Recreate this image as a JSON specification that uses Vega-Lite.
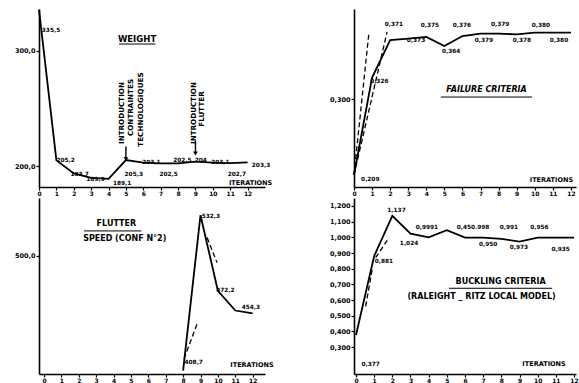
{
  "$schema": "https://vega.github.io/schema/vega-lite/v6.json",
  "background": "white",
  "padding": {"left": 14, "top": 5, "right": 0, "bottom": 0},
  "bounds": "flush",
  "columns": 2,
  "spacing": {"row": 11, "column": 89},
  "config": {
    "view": {"stroke": null},
    "axis": {"domainColor": "black", "domainWidth": 1.6, "tickColor": "black", "tickSize": 3, "tickWidth": 1.2, "labelFont": "DejaVu Sans", "labelFontWeight": "bold", "labelFontSize": 6.5, "labelColor": "black", "labelPadding": 1, "grid": false, "title": null},
    "text": {"font": "DejaVu Sans", "fontWeight": "bold", "fontSize": 5.8, "color": "black"}
  },
  "concat": [
    {
      "width": 226, "height": 178,
      "layer": [
        {
          "data": {"values": [
            {"it": 0, "v": 335.5}, {"it": 1, "v": 205.2}, {"it": 2, "v": 193.7}, {"it": 3, "v": 189.9}, {"it": 4, "v": 189.1},
            {"it": 5, "v": 205.3}, {"it": 6, "v": 203.1}, {"it": 7, "v": 202.5}, {"it": 8, "v": 202.5}, {"it": 9, "v": 204.0},
            {"it": 10, "v": 203.1}, {"it": 11, "v": 202.7}, {"it": 12, "v": 203.3}
          ]},
          "mark": {"type": "line", "color": "black", "strokeWidth": 1.8},
          "encoding": {
            "x": {"field": "it", "type": "quantitative", "scale": {"domain": [0, 13], "nice": false, "zero": false}, "axis": {"values": [0,1,2,3,4,5,6,7,8,9,10,11,12], "format": "d", "tickCount": 30, "labelOverlap": false, "labelFlush": false, "labelFontSize": 6, "tickSize": 3, "labelPadding": 0}},
            "y": {"field": "v", "type": "quantitative", "scale": {"domain": [182, 336], "nice": false, "zero": false}, "axis": {"values": [200, 300], "tickCount": 30, "labelOverlap": false, "labelExpr": "replace(format(datum.value, '.1f'), '.', ',')"}}
          }
        },
        {
          "data": {"values": [
            {"it": 0.69, "v": 317.8, "t": "335,5"}, {"it": 1.53, "v": 205.1, "t": "205,2"}, {"it": 2.34, "v": 193, "t": "193,7"},
            {"it": 3.25, "v": 188.7, "t": "189,9"}, {"it": 4.78, "v": 185.7, "t": "189,1"}, {"it": 5.45, "v": 193.5, "t": "205,3"},
            {"it": 6.46, "v": 203.6, "t": "203,1"}, {"it": 7.46, "v": 193, "t": "202,5"}, {"it": 8.25, "v": 205.1, "t": "202,5"},
            {"it": 9.3, "v": 205.1, "t": "204"}, {"it": 10.43, "v": 203.6, "t": "203,1"}, {"it": 11.38, "v": 193.5, "t": "202,7"},
            {"it": 12.77, "v": 200.8, "t": "203,3"}
          ]},
          "mark": {"type": "text"},
          "encoding": {"x": {"field": "it", "type": "quantitative"}, "y": {"field": "v", "type": "quantitative"}, "text": {"field": "t"}}
        },
        {
          "data": {"values": [{"it": 5.64, "v": 309.8, "t": "WEIGHT"}]},
          "mark": {"type": "text", "fontSize": 8.5},
          "encoding": {"x": {"field": "it", "type": "quantitative"}, "y": {"field": "v", "type": "quantitative"}, "text": {"field": "t"}}
        },
        {
          "data": {"values": [{"it": 12.17, "v": 185.7, "t": "ITERATIONS"}]},
          "mark": {"type": "text", "fontSize": 6.5},
          "encoding": {"x": {"field": "it", "type": "quantitative"}, "y": {"field": "v", "type": "quantitative"}, "text": {"field": "t"}}
        },
        {
          "data": {"values": [{"it": 4.6, "it2": 6.7, "v": 305.7}]},
          "mark": {"type": "rule", "color": "black", "strokeWidth": 1},
          "encoding": {"x": {"field": "it", "type": "quantitative"}, "x2": {"field": "it2"}, "y": {"field": "v", "type": "quantitative"}}
        },
        {
          "data": {"values": [
            {"it": 4.75, "v": 246, "t": "INTRODUCTION"}, {"it": 5.32, "v": 250.8, "t": "CONTRAINTES"}, {"it": 5.84, "v": 249, "t": "TECHNOLOGIQUES"},
            {"it": 8.9, "v": 246, "t": "INTRODUCTION"}, {"it": 9.36, "v": 249.5, "t": "FLUTTER"}
          ]},
          "mark": {"type": "text", "angle": 270, "fontSize": 7.2},
          "encoding": {"x": {"field": "it", "type": "quantitative"}, "y": {"field": "v", "type": "quantitative"}, "text": {"field": "t"}}
        },
        {
          "data": {"values": [{"it": 5, "v1": 217, "v2": 206}, {"it": 9, "v1": 222, "v2": 211}]},
          "mark": {"type": "rule", "color": "black", "strokeWidth": 1.4},
          "encoding": {"x": {"field": "it", "type": "quantitative"}, "y": {"field": "v1", "type": "quantitative"}, "y2": {"field": "v2"}}
        },
        {
          "data": {"values": [{"it": 5, "v": 206}, {"it": 9, "v": 211}]},
          "mark": {"type": "point", "shape": "triangle-down", "filled": true, "color": "black", "size": 22, "opacity": 1},
          "encoding": {"x": {"field": "it", "type": "quantitative"}, "y": {"field": "v", "type": "quantitative"}}
        },
        {
          "mark": {"type": "point", "shape": "triangle-up", "filled": true, "color": "black", "size": 30, "opacity": 1},
          "encoding": {"x": {"datum": 0}, "y": {"datum": 336}}
        },
        {
          "mark": {"type": "point", "shape": "triangle-right", "filled": true, "color": "black", "size": 30, "opacity": 1},
          "encoding": {"x": {"datum": 13}, "y": {"datum": 182}}
        }
      ]
    },
    {
      "width": 222, "height": 178,
      "layer": [
        {
          "data": {"values": [
            {"it": 0, "v": 0.209}, {"it": 1, "v": 0.326}, {"it": 2, "v": 0.371}, {"it": 3, "v": 0.373}, {"it": 4, "v": 0.375},
            {"it": 5, "v": 0.364}, {"it": 6, "v": 0.376}, {"it": 7, "v": 0.379}, {"it": 8, "v": 0.379}, {"it": 9, "v": 0.378},
            {"it": 10, "v": 0.380}, {"it": 11, "v": 0.380}, {"it": 12, "v": 0.380}
          ]},
          "mark": {"type": "line", "color": "black", "strokeWidth": 1.8},
          "encoding": {
            "x": {"field": "it", "type": "quantitative", "scale": {"domain": [0, 12.28], "nice": false, "zero": false}, "axis": {"values": [0,1,2,3,4,5,6,7,8,9,10,11,12], "format": "d", "tickCount": 30, "labelOverlap": false, "labelFlush": false, "labelFontSize": 6, "tickSize": 3, "labelPadding": 0}},
            "y": {"field": "v", "type": "quantitative", "scale": {"domain": [0.1946, 0.4085], "nice": false, "zero": false}, "axis": {"values": [0.3], "tickCount": 30, "labelOverlap": false, "labelExpr": "replace(format(datum.value, '.3f'), '.', ',')"}}
          }
        },
        {
          "data": {"values": [
            {"s": "a", "it": 0, "v": 0.209}, {"s": "a", "it": 0.83, "v": 0.381},
            {"s": "b", "it": 0, "v": 0.209}, {"s": "b", "it": 1.83, "v": 0.381}
          ]},
          "mark": {"type": "line", "color": "black", "strokeWidth": 1.3, "strokeDash": [5, 3]},
          "encoding": {"x": {"field": "it", "type": "quantitative"}, "y": {"field": "v", "type": "quantitative"}, "detail": {"field": "s"}}
        },
        {
          "mark": {"type": "rule", "color": "black", "strokeWidth": 1.5},
          "encoding": {"x": {"datum": 0}, "x2": {"datum": 12.28}, "y": {"datum": 0.38}}
        },
        {
          "mark": {"type": "rule", "color": "black", "strokeWidth": 3, "strokeDash": [1, 1.5], "yOffset": -2},
          "encoding": {"x": {"datum": 0}, "x2": {"datum": 12.28}, "y": {"datum": 0.38}}
        },
        {
          "data": {"values": [
            {"it": 2.21, "v": 0.3905, "t": "0,371"}, {"it": 4.2, "v": 0.3893, "t": "0,375"}, {"it": 5.97, "v": 0.3893, "t": "0,376"},
            {"it": 8.08, "v": 0.3905, "t": "0,379"}, {"it": 10.34, "v": 0.3893, "t": "0,380"}, {"it": 3.43, "v": 0.3712, "t": "0,373"},
            {"it": 5.37, "v": 0.358, "t": "0,364"}, {"it": 7.19, "v": 0.3712, "t": "0,379"}, {"it": 9.29, "v": 0.3712, "t": "0,378"},
            {"it": 11.34, "v": 0.3712, "t": "0,380"}, {"it": 1.4, "v": 0.322, "t": "0,326"}, {"it": 0.9, "v": 0.2046, "t": "0,209"}
          ]},
          "mark": {"type": "text"},
          "encoding": {"x": {"field": "it", "type": "quantitative"}, "y": {"field": "v", "type": "quantitative"}, "text": {"field": "t"}}
        },
        {
          "data": {"values": [{"it": 7.33, "v": 0.3108, "t": "FAILURE  CRITERIA"}]},
          "mark": {"type": "text", "fontSize": 8, "fontStyle": "italic"},
          "encoding": {"x": {"field": "it", "type": "quantitative"}, "y": {"field": "v", "type": "quantitative"}, "text": {"field": "t"}}
        },
        {
          "data": {"values": [{"it": 4.8, "it2": 9.85, "v": 0.3027}]},
          "mark": {"type": "rule", "color": "black", "strokeWidth": 1},
          "encoding": {"x": {"field": "it", "type": "quantitative"}, "x2": {"field": "it2"}, "y": {"field": "v", "type": "quantitative"}}
        },
        {
          "data": {"values": [{"it": 10.92, "v": 0.203, "t": "ITERATIONS"}]},
          "mark": {"type": "text", "fontSize": 6.5},
          "encoding": {"x": {"field": "it", "type": "quantitative"}, "y": {"field": "v", "type": "quantitative"}, "text": {"field": "t"}}
        },
        {
          "mark": {"type": "point", "shape": "triangle-up", "filled": true, "color": "black", "size": 30, "opacity": 1},
          "encoding": {"x": {"datum": 0}, "y": {"datum": 0.4085}}
        },
        {
          "mark": {"type": "point", "shape": "triangle-right", "filled": true, "color": "black", "size": 30, "opacity": 1},
          "encoding": {"x": {"datum": 12.28}, "y": {"datum": 0.1946}}
        }
      ]
    },
    {
      "width": 226, "height": 176,
      "layer": [
        {
          "data": {"values": [
            {"it": 8, "v": 408.7}, {"it": 9, "v": 532.3}, {"it": 10, "v": 472.2}, {"it": 11, "v": 456.5}, {"it": 12, "v": 454.3}
          ]},
          "mark": {"type": "line", "color": "black", "strokeWidth": 1.8},
          "encoding": {
            "x": {"field": "it", "type": "quantitative", "scale": {"domain": [-0.29, 12.71], "nice": false, "zero": false}, "axis": {"values": [0,1,2,3,4,5,6,7,8,9,10,11,12], "format": "d", "tickCount": 30, "labelOverlap": false, "labelFlush": false, "labelFontSize": 6, "tickSize": 3, "labelPadding": 0}},
            "y": {"field": "v", "type": "quantitative", "scale": {"domain": [406, 546], "nice": false, "zero": false}, "axis": {"values": [500], "tickCount": 30, "labelOverlap": false, "labelExpr": "replace(format(datum.value, '.1f'), '.', ',')"}}
          }
        },
        {
          "data": {"values": [
            {"s": "a", "it": 8.05, "v": 418}, {"s": "a", "it": 8.8, "v": 445.8},
            {"s": "b", "it": 9.38, "v": 514.5}, {"s": "b", "it": 9.95, "v": 494.6}
          ]},
          "mark": {"type": "line", "color": "black", "strokeWidth": 1.3, "strokeDash": [5, 3]},
          "encoding": {"x": {"field": "it", "type": "quantitative"}, "y": {"field": "v", "type": "quantitative"}, "detail": {"field": "s"}}
        },
        {
          "mark": {"type": "rule", "color": "black", "strokeWidth": 1.5},
          "encoding": {"x": {"datum": 7.56}, "x2": {"datum": 12.71}, "y": {"datum": 450}}
        },
        {
          "mark": {"type": "rule", "color": "black", "strokeWidth": 3, "strokeDash": [1, 1.5], "yOffset": 2},
          "encoding": {"x": {"datum": 7.56}, "x2": {"datum": 12.71}, "y": {"datum": 450}}
        },
        {
          "data": {"values": [
            {"it": 9.6, "v": 531.7, "t": "532,3"}, {"it": 8.61, "v": 415.3, "t": "408,7"},
            {"it": 10.43, "v": 472.7, "t": "472,2"}, {"it": 11.9, "v": 459, "t": "454,3"}
          ]},
          "mark": {"type": "text"},
          "encoding": {"x": {"field": "it", "type": "quantitative"}, "y": {"field": "v", "type": "quantitative"}, "text": {"field": "t"}}
        },
        {
          "data": {"values": [{"it": 4.16, "v": 525, "t": "FLUTTER"}, {"it": 4.64, "v": 513.2, "t": "SPEED (CONF N°2)"}]},
          "mark": {"type": "text", "fontSize": 8},
          "encoding": {"x": {"field": "it", "type": "quantitative"}, "y": {"field": "v", "type": "quantitative"}, "text": {"field": "t"}}
        },
        {
          "data": {"values": [{"it": 2.3, "it2": 5.6, "v": 519.8}]},
          "mark": {"type": "rule", "color": "black", "strokeWidth": 1},
          "encoding": {"x": {"field": "it", "type": "quantitative"}, "x2": {"field": "it2"}, "y": {"field": "v", "type": "quantitative"}}
        },
        {
          "data": {"values": [{"it": 11.96, "v": 413.5, "t": "ITERATIONS"}]},
          "mark": {"type": "text", "fontSize": 6.5},
          "encoding": {"x": {"field": "it", "type": "quantitative"}, "y": {"field": "v", "type": "quantitative"}, "text": {"field": "t"}}
        },
        {
          "mark": {"type": "point", "shape": "triangle-up", "filled": true, "color": "black", "size": 30, "opacity": 1},
          "encoding": {"x": {"datum": -0.29}, "y": {"datum": 546}}
        },
        {
          "mark": {"type": "point", "shape": "triangle-right", "filled": true, "color": "black", "size": 30, "opacity": 1},
          "encoding": {"x": {"datum": 12.71}, "y": {"datum": 406}}
        }
      ]
    },
    {
      "width": 222, "height": 176,
      "layer": [
        {
          "data": {"values": [
            {"it": 0, "v": 0.377}, {"it": 1, "v": 0.881}, {"it": 2, "v": 1.137}, {"it": 3, "v": 1.024}, {"it": 4, "v": 1.0},
            {"it": 5, "v": 1.045}, {"it": 6, "v": 0.998}, {"it": 7, "v": 0.998}, {"it": 8, "v": 0.99}, {"it": 9, "v": 0.973},
            {"it": 10, "v": 0.998}, {"it": 11, "v": 0.998}, {"it": 12, "v": 0.998}
          ]},
          "mark": {"type": "line", "color": "black", "strokeWidth": 1.8},
          "encoding": {
            "x": {"field": "it", "type": "quantitative", "scale": {"domain": [-0.11, 12.11], "nice": false, "zero": false}, "axis": {"values": [0,1,2,3,4,5,6,7,8,9,10,11,12], "format": "d", "tickCount": 30, "labelOverlap": false, "labelFlush": false, "labelFontSize": 6, "tickSize": 3, "labelPadding": 0}},
            "y": {"field": "v", "type": "quantitative", "scale": {"domain": [0.128, 1.251], "nice": false, "zero": false}, "axis": {"values": [0.3,0.4,0.5,0.6,0.7,0.8,0.9,1.0,1.1,1.2], "tickCount": 30, "labelOverlap": false, "labelExpr": "replace(format(datum.value, '.3f'), '.', ',')"}}
          }
        },
        {
          "data": {"values": [
            {"s": "a", "it": 0.53, "v": 0.56}, {"s": "a", "it": 0.9, "v": 0.8},
            {"s": "b", "it": 1.08, "v": 0.87}, {"s": "b", "it": 1.82, "v": 0.998}
          ]},
          "mark": {"type": "line", "color": "black", "strokeWidth": 1.3, "strokeDash": [5, 3]},
          "encoding": {"x": {"field": "it", "type": "quantitative"}, "y": {"field": "v", "type": "quantitative"}, "detail": {"field": "s"}}
        },
        {
          "mark": {"type": "rule", "color": "black", "strokeWidth": 1.5},
          "encoding": {"x": {"datum": -0.11}, "x2": {"datum": 12.11}, "y": {"datum": 1.0}}
        },
        {
          "mark": {"type": "rule", "color": "black", "strokeWidth": 3, "strokeDash": [1, 1.5], "yOffset": -2},
          "encoding": {"x": {"datum": -0.11}, "x2": {"datum": 12.11}, "y": {"datum": 1.0}}
        },
        {
          "data": {"values": [
            {"it": 2.23, "v": 1.174, "t": "1,137"}, {"it": 3.9, "v": 1.068, "t": "0,9991"}, {"it": 6.44, "v": 1.068, "t": "0,450.998"},
            {"it": 8.42, "v": 1.068, "t": "0,991"}, {"it": 10.1, "v": 1.068, "t": "0,956"}, {"it": 2.92, "v": 0.966, "t": "1,024"},
            {"it": 7.27, "v": 0.955, "t": "0,950"}, {"it": 8.97, "v": 0.94, "t": "0,973"}, {"it": 11.27, "v": 0.924, "t": "0,935"},
            {"it": 1.54, "v": 0.849, "t": "0,881"}, {"it": 0.81, "v": 0.19, "t": "0,377"}
          ]},
          "mark": {"type": "text"},
          "encoding": {"x": {"field": "it", "type": "quantitative"}, "y": {"field": "v", "type": "quantitative"}, "text": {"field": "t"}}
        },
        {
          "data": {"values": [{"it": 7.96, "v": 0.717, "t": "BUCKLING  CRITERIA"}, {"it": 6.91, "v": 0.619, "t": "(RALEIGHT _ RITZ  LOCAL  MODEL)"}]},
          "mark": {"type": "text", "fontSize": 8},
          "encoding": {"x": {"field": "it", "type": "quantitative"}, "y": {"field": "v", "type": "quantitative"}, "text": {"field": "t"}}
        },
        {
          "data": {"values": [{"it": 5.12, "it2": 10.8, "v": 0.675}]},
          "mark": {"type": "rule", "color": "black", "strokeWidth": 1},
          "encoding": {"x": {"field": "it", "type": "quantitative"}, "x2": {"field": "it2"}, "y": {"field": "v", "type": "quantitative"}}
        },
        {
          "data": {"values": [{"it": 10.35, "v": 0.19, "t": "ITERATIONS"}]},
          "mark": {"type": "text", "fontSize": 6.5},
          "encoding": {"x": {"field": "it", "type": "quantitative"}, "y": {"field": "v", "type": "quantitative"}, "text": {"field": "t"}}
        },
        {
          "mark": {"type": "point", "shape": "triangle-up", "filled": true, "color": "black", "size": 30, "opacity": 1},
          "encoding": {"x": {"datum": -0.11}, "y": {"datum": 1.251}}
        },
        {
          "mark": {"type": "point", "shape": "triangle-right", "filled": true, "color": "black", "size": 30, "opacity": 1},
          "encoding": {"x": {"datum": 12.11}, "y": {"datum": 0.128}}
        }
      ]
    }
  ]
}
